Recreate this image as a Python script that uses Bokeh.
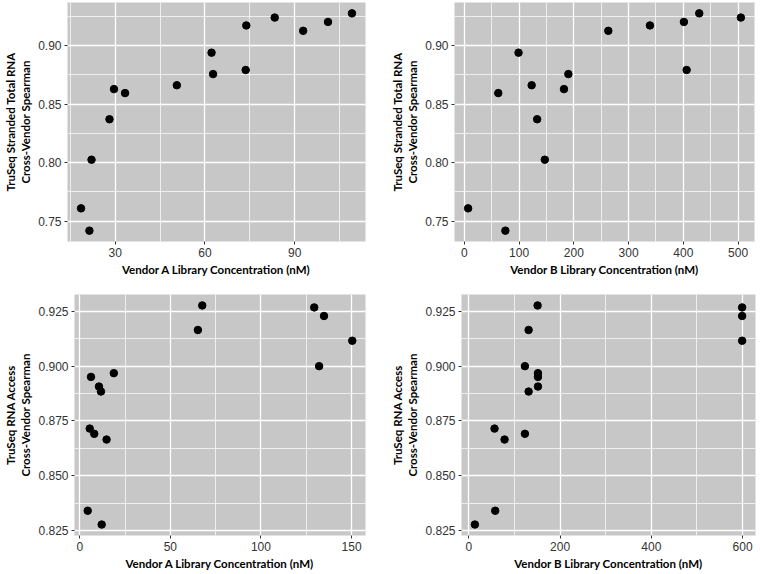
from bokeh.plotting import figure
from bokeh.layouts import column, row
from bokeh.models import Range1d, FixedTicker, PrintfTickFormatter
from bokeh.embed import file_html
from bokeh.resources import INLINE

# ---- data ----
total_rna_spearman = [0.761, 0.742, 0.8025, 0.837, 0.8627, 0.8593, 0.866, 0.8938,
                      0.8755, 0.879, 0.917, 0.9237, 0.9124, 0.920, 0.9273]
total_rna_conc_a = [18.6, 21.4, 22.1, 28.1, 29.6, 33.3, 50.6, 62.2,
                    62.7, 73.6, 73.8, 83.3, 92.8, 101.1, 109.1]
total_rna_conc_b = [7, 75, 147, 133, 182, 62, 123, 99,
                    190, 406, 339, 505, 263, 401, 429]

access_spearman = [0.9277, 0.9165, 0.900, 0.8968, 0.8951, 0.8907, 0.8884, 0.8715,
                   0.8691, 0.8665, 0.834, 0.8277, 0.9268, 0.9229, 0.9116]
access_conc_a = [67.6, 65.2, 132.1, 18.8, 6.2, 10.6, 11.7, 5.5,
                 8.0, 14.8, 4.4, 12.1, 129.4, 134.8, 150.4]
access_conc_b = [150.7, 131, 122.9, 151.5, 151.5, 151.5, 131, 56.3,
                 122.9, 78.3, 57.8, 13.2, 599, 599, 599]

# ticks
x_ticks_a_total = [30, 60, 90]
x_minor_a_total = [15, 45, 75, 105]
x_ticks_b_total = [0, 100, 200, 300, 400, 500]
x_minor_b_total = [50, 150, 250, 350, 450]
y_ticks_total = [0.75, 0.80, 0.85, 0.90]
y_minor_total = [0.725, 0.775, 0.825, 0.875, 0.925]

x_ticks_a_access = [0, 50, 100, 150]
x_minor_a_access = [25, 75, 125]
x_ticks_b_access = [0, 200, 400, 600]
x_minor_b_access = [100, 300, 500]
y_ticks_access = [0.825, 0.850, 0.875, 0.900, 0.925]
y_minor_access = [0.8375, 0.8625, 0.8875, 0.9125]

label_a = "Vendor A Library Concentration (nM)"
label_b = "Vendor B Library Concentration (nM)"
label_total = "TruSeq Stranded Total RNA\nCross-Vendor Spearman"
label_access = "TruSeq RNA Access\nCross-Vendor Spearman"

PANEL_BG = "#C7C7C7"
TITLE_FONT = "Lato"
TICK_FONT = "Liberation Sans"


def padded(vals, frac=0.05):
    lo, hi = min(vals), max(vals)
    span = hi - lo
    return Range1d(lo - frac * span, hi + frac * span)


def panel(x, y, xt, xm, yt, ym, yfmt, xlabel, ylabel, width, height, bl, br, bt, bb):
    p = figure(width=width, height=height, output_backend="svg", toolbar_location=None,
               x_range=padded(x), y_range=padded(y),
               min_border_left=bl, min_border_right=br, min_border_top=bt, min_border_bottom=bb)
    p.background_fill_color = PANEL_BG
    p.border_fill_color = "white"
    p.outline_line_color = None
    p.scatter(x, y, size=7.5, color="black")

    p.xaxis.ticker = FixedTicker(ticks=xt, minor_ticks=xm)
    p.yaxis.ticker = FixedTicker(ticks=yt, minor_ticks=ym)
    p.yaxis.formatter = PrintfTickFormatter(format=yfmt)
    p.xaxis.formatter = PrintfTickFormatter(format="%d")

    for g in (p.xgrid, p.ygrid):
        g.grid_line_color = "white"
        g.grid_line_width = 1.3
        g.minor_grid_line_color = "white"
        g.minor_grid_line_width = 0.7

    for ax in (p.xaxis, p.yaxis):
        ax.axis_line_color = None
        ax.major_tick_line_color = "#333333"
        ax.major_tick_out = 3
        ax.major_tick_in = 0
        ax.minor_tick_line_color = None
        ax.major_label_text_font = TICK_FONT
        ax.major_label_text_font_size = "12px"
        ax.major_label_text_color = "#333333"
        ax.major_label_standoff = 2
        ax.axis_label_text_font = TITLE_FONT
        ax.axis_label_text_font_style = "bold"
        ax.axis_label_text_font_size = "11.5px"
        ax.axis_label_text_color = "black"
        ax.axis_label_standoff = 3
    p.xaxis.axis_label = xlabel
    p.yaxis.axis_label = ylabel
    return p


p1 = panel(total_rna_conc_a, total_rna_spearman, x_ticks_a_total, x_minor_a_total,
           y_ticks_total, y_minor_total, "%.2f", label_a, label_total,
           380, 290, 66, 15, 2, 49)
p2 = panel(total_rna_conc_b, total_rna_spearman, x_ticks_b_total, x_minor_b_total,
           y_ticks_total, y_minor_total, "%.2f", label_b, label_total,
           380, 290, 74, 6, 2, 49)
p3 = panel(access_conc_a, access_spearman, x_ticks_a_access, x_minor_a_access,
           y_ticks_access, y_minor_access, "%.3f", label_a, label_access,
           380, 284, 72, 15, 4, 39)
p4 = panel(access_conc_b, access_spearman, x_ticks_b_access, x_minor_b_access,
           y_ticks_access, y_minor_access, "%.3f", label_b, label_access,
           380, 284, 81, 5, 4, 39)

layout = column(row(p1, p2, spacing=0), row(p3, p4, spacing=0), spacing=0)
open("out.html", "w").write(file_html(layout, INLINE))
